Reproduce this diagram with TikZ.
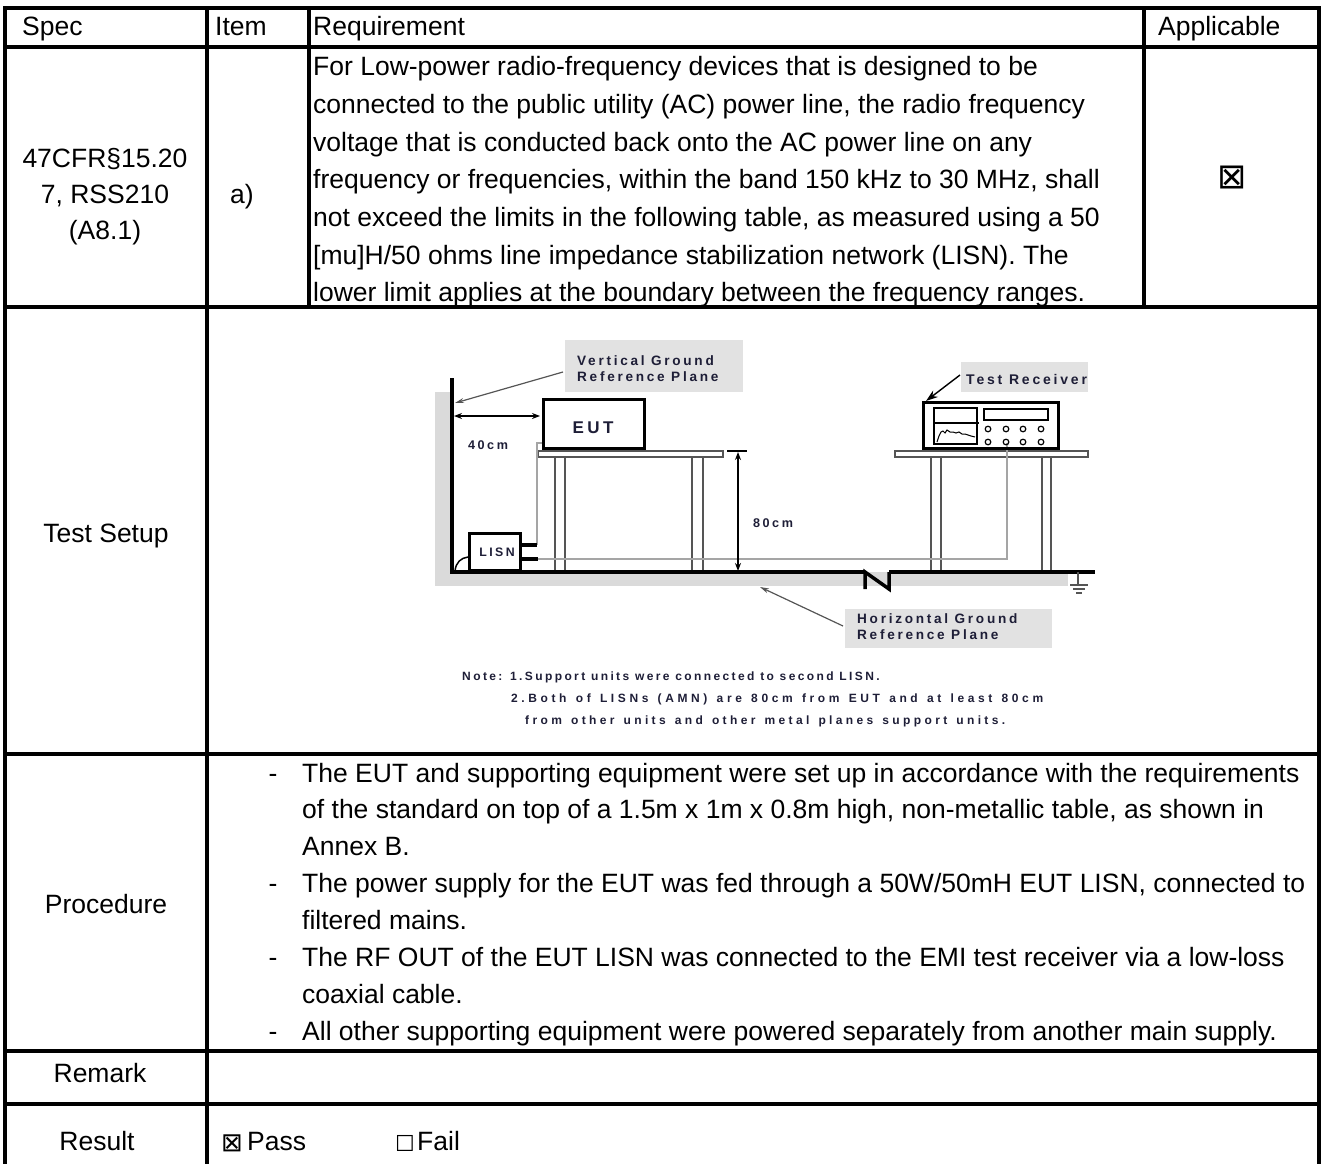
\documentclass[tikz,border=0pt]{standalone}
\usepackage{fontspec}
\setmainfont{Liberation Sans}
\newfontfamily\diagfont[LetterSpace=20]{Liberation Sans}
\newfontfamily\notefontb[LetterSpace=30]{Liberation Sans}
\newfontfamily\notefontc[LetterSpace=28]{Liberation Sans}
\newfontfamily\symfont{DejaVu Sans}
\usetikzlibrary{arrows.meta}
\definecolor{navy}{RGB}{30,30,55}
\definecolor{lblgrey}{RGB}{226,226,226}
\definecolor{plgrey}{RGB}{218,218,218}
\definecolor{cablegrey}{RGB}{165,165,165}
\definecolor{leggrey}{RGB}{85,85,85}
\tikzset{
 gridline/.style={line width=3.2pt, line cap=rect},
 tx/.style={inner sep=0pt, anchor=base west, font=\fontsize{26.5}{37}\selectfont},
 txc/.style={inner sep=0pt, anchor=base, font=\fontsize{26.5}{37}\selectfont},
 dtx/.style={inner sep=0pt, anchor=base west, text=navy, font=\diagfont\bfseries\fontsize{13.6}{15}\selectfont},
 dtxc/.style={dtx, anchor=base},
 smalltx/.style={dtx, font=\diagfont\bfseries\fontsize{12.6}{14}\selectfont},
 notetx/.style={dtx, font=\diagfont\bfseries\fontsize{12}{14}\selectfont},
 notetxb/.style={dtx, font=\notefontb\bfseries\fontsize{12}{14}\selectfont},
 notetxc/.style={dtx, font=\notefontc\bfseries\fontsize{12}{14}\selectfont},
 thickbox/.style={draw, line width=3.3pt, inner sep=0pt},
 lblbox/.style={fill=lblgrey, inner sep=0pt},
 tabletop/.style={draw=leggrey, line width=1.2pt, fill=white},
 leg/.style={draw=leggrey, line width=1.3pt},
 cable/.style={draw=cablegrey, line width=1.6pt},
 pointer/.style={draw=leggrey, line width=1.2pt, -{Stealth[length=9pt,width=5pt]}},
 dimarrow/.style={line width=2pt, {Stealth[length=8pt,width=6pt]}-{Stealth[length=8pt,width=6pt]}},
}
\begin{document}
\begin{tikzpicture}[x=1pt,y=-1pt]
\useasboundingbox (0,0) rectangle (1323,1164);

% ---------------- table grid ----------------
\draw[gridline] (5,8) -- (1319,8);
\draw[gridline] (5,47) -- (1319,47);
\draw[gridline] (5,307) -- (1319,307);
\draw[gridline] (5,754) -- (1319,754);
\draw[gridline] (5,1051) -- (1319,1051);
\draw[gridline] (5,1104) -- (1319,1104);
\draw[gridline] (5,8) -- (5,1170);
\draw[gridline] (1319,8) -- (1319,1170);
\draw[gridline] (207,8) -- (207,1170);
\draw[gridline] (309,8) -- (309,307);
\draw[gridline] (1144,8) -- (1144,307);

% ---------------- header ----------------
\node[tx] (hspec) at (22,36) {Spec};
\node[tx] (hitem) at (215,36) {Item};
\node[tx] (hreq) at (313,36) {Requirement};
\node[tx] (happ) at (1158,36) {Applicable};

% ---------------- row 1 ----------------
\node[txc] (spec1) at (105,167) {47CFR§15.20};
\node[txc] (spec2) at (105,203) {7, RSS210};
\node[txc] (spec3) at (105,239) {(A8.1)};
\node[txc] (itema) at (242,203) {a)};
\node[tx] (r1) at (313,76) {For Low-power radio-frequency devices that is designed to be};
\node[tx] (r2) at (313,113.6) {connected to the public utility (AC) power line, the radio frequency};
\node[tx] (r3) at (313,151.2) {voltage that is conducted back onto the AC power line on any};
\node[tx] (r4) at (313,188.8) {frequency or frequencies, within the band 150 kHz to 30 MHz, shall};
\node[tx] (r5) at (313,226.4) {not exceed the limits in the following table, as measured using a 50};
\node[tx] (r6) at (313,264) {[mu]H/50 ohms line impedance stabilization network (LISN). The};
\node[tx] (r7) at (313,301.6) {lower limit applies at the boundary between the frequency ranges.};
\node[inner sep=0pt, font=\symfont\fontsize{35}{35}\selectfont] (appbox) at (1232,178) {⊠};

% ---------------- row 2: test setup ----------------
\node[txc] (tsetup) at (106,542) {Test Setup};

% grey planes
\fill[plgrey] (435,392) rectangle (452,586);
\fill[plgrey] (435,572) rectangle (1068,586);

% tables
\node[tabletop, minimum width=185, minimum height=6, inner sep=0pt] (eutable) at (630.5,454) {};
\node[tabletop, minimum width=193, minimum height=6, inner sep=0pt] (rxtable) at (991.5,454) {};
\foreach \lx in {555,565,692,703,931,941,1042,1051}
  \draw[leg] (\lx,457.6) -- (\lx,571);

% cables
\coordinate (eutport) at (542,443);
\coordinate (eutbend) at (537,443);
\coordinate (lisnup) at (537,545);
\coordinate (lisnlow) at (538,559);
\coordinate (rxbend) at (1007,559);
\coordinate (rxport) at (1007,443);
\draw[cable] (eutport) -- (eutbend) -- (lisnup);
\draw[cable] (lisnlow) -- (rxbend) -- (rxport);

% vertical plane and ground plane
\coordinate (vpt) at (452,378);
\coordinate (vpb) at (452,573);
\draw[line width=3.5pt] (vpt) -- (vpb);
\coordinate (gpl) at (450,572);
\coordinate (gpn1) at (865,572);
\coordinate (gpn2) at (889,572);
\coordinate (gpr) at (1095,572);
\draw[line width=4.5pt] (gpl) -- (gpn1);
\draw[line width=4.5pt] (gpn2) -- (gpr);
\draw[line width=3.5pt, line join=miter] (865,589) -- (gpn1) -- (889,589) -- (gpn2);

% ground symbol
\coordinate (gndtop) at (1078,572);
\coordinate (gndbot) at (1078,585);
\draw[leg] (gndtop) -- (gndbot);
\draw[leg] (1070,585) -- (1088,585);
\draw[leg] (1073,589) -- (1085,589);
\draw[leg] (1076,593) -- (1082,593);

% LISN
\node[thickbox, minimum width=51, minimum height=37] (lisn) at (495,552) {};
\node[dtxc, font=\diagfont\bfseries\fontsize{12.3}{13}\selectfont] (lisntx) at (497,556) {LISN};
\draw[line width=4pt] (522,545) -- (lisnup);
\draw[line width=4pt] (522,559) -- (lisnlow);
\draw[line width=1.5pt] (455,571) .. controls (456,562) and (461,558) .. (468,557);

% EUT
\node[thickbox, minimum width=101, minimum height=49] (eut) at (594,424) {};
\node[dtxc, font=\diagfont\bfseries\fontsize{17}{19}\selectfont] (euttx) at (593,433) {EUT};

% 40cm
\coordinate (d40a) at (454,416);
\coordinate (d40b) at (540,416);
\draw[dimarrow] (d40a) -- (d40b);
\node[smalltx] (l40) at (468,449) {40cm};

% 80cm
\coordinate (d80a) at (738,452);
\coordinate (d80b) at (738,571);
\draw[dimarrow] (d80a) -- (d80b);
\draw[line width=1.5pt] (727,451) -- (747,451);
\node[smalltx] (l80) at (753,527) {80cm};

% Vertical plane label
\node[lblbox, minimum width=178, minimum height=52] (vlbl) at (654,366) {};
\node[dtx] (vlbl1) at (577,365) {Vertical Ground};
\node[dtx] (vlbl2) at (577,381) {Reference Plane};
\coordinate (vptr) at (563,372);
\coordinate (vptrend) at (455,403);
\draw[pointer] (vptr) -- (vptrend);

% Horizontal plane label
\node[lblbox, minimum width=207, minimum height=39] (hlbl) at (948.5,628.5) {};
\node[dtx] (hlbl1) at (857,623) {Horizontal Ground};
\node[dtx] (hlbl2) at (857,639) {Reference Plane};
\coordinate (hptr) at (843,626);
\coordinate (hptrend) at (760,587);
\draw[pointer] (hptr) -- (hptrend);

% Receiver
\node[thickbox, minimum width=135, minimum height=46] (rx) at (991,425.5) {};
\draw[line width=1.4pt] (934,408) rectangle (977,444);
\draw[line width=1.4pt] (934,423) -- (979,423);
\draw[line width=1pt] (937,442) -- (939,436) -- (941,432) -- (943,431) -- (945,433) -- (947,430) -- (950,432) -- (953,432) -- (956,433) -- (959,432) -- (962,434) -- (965,434) -- (968,435) -- (971,436) -- (975,437);
\draw[line width=1.4pt] (984,409) rectangle (1048,420);
\foreach \bx in {988,1006,1023,1041}{
  \draw[line width=1.2pt] (\bx,429) circle (2.8);
  \draw[line width=1.2pt] (\bx,442) circle (2.8);
}
\node[lblbox, minimum width=127, minimum height=30] (rlbl) at (1024.5,377) {};
\node[dtx, font=\diagfont\bfseries\fontsize{14}{16}\selectfont] (rlbltx) at (966,384) {Test Receiver};
\coordinate (rptr) at (960,375);
\coordinate (rptrend) at (926,401);
\draw[line width=1.4pt, -{Stealth[length=12pt,width=8pt]}] (rptr) -- (rptrend);

% Note
\node[notetx] (note1) at (462,680) {Note: 1.Support units were connected to second LISN.};
\node[notetxb] (note2) at (511,702) {\makebox[532pt][s]{2.Both of LISNs (AMN) are 80cm from EUT and at least 80cm}};
\node[notetxc] (note3) at (525,724) {\makebox[480pt][s]{from other units and other metal planes support units.}};

% ---------------- procedure ----------------
\node[txc] (proc) at (106,913) {Procedure};
\node[txc] (dash1) at (273,782) {-};
\node[txc] (dash2) at (273,892.7) {-};
\node[txc] (dash3) at (273,966.5) {-};
\node[txc] (dash4) at (273,1040.3) {-};
\node[tx] (p1) at (302,782) {The EUT and supporting equipment were set up in accordance with the requirements};
\node[tx] (p2) at (302,818.9) {of the standard on top of a 1.5m x 1m x 0.8m high, non-metallic table, as shown in};
\node[tx] (p3) at (302,855.8) {Annex B.};
\node[tx] (p4) at (302,892.7) {The power supply for the EUT was fed through a 50W/50mH EUT LISN, connected to};
\node[tx] (p5) at (302,929.6) {filtered mains.};
\node[tx] (p6) at (302,966.5) {The RF OUT of the EUT LISN was connected to the EMI test receiver via a low-loss};
\node[tx] (p7) at (302,1003.4) {coaxial cable.};
\node[tx] (p8) at (302,1040.3) {All other supporting equipment were powered separately from another main supply.};

% ---------------- remark / result ----------------
\node[txc] (remark) at (100,1082) {Remark};
\node[txc] (result) at (97,1150) {Result};
\node[inner sep=0pt, font=\symfont\fontsize{26}{26}\selectfont] (passbox) at (232,1143.5) {⊠};
\node[tx] (pass) at (247,1150) {Pass};
\node[inner sep=0pt, font=\symfont\fontsize{22}{22}\selectfont] (failbox) at (405,1143) {☐};
\node[tx] (fail) at (417,1150) {Fail};
\end{tikzpicture}
\end{document}
